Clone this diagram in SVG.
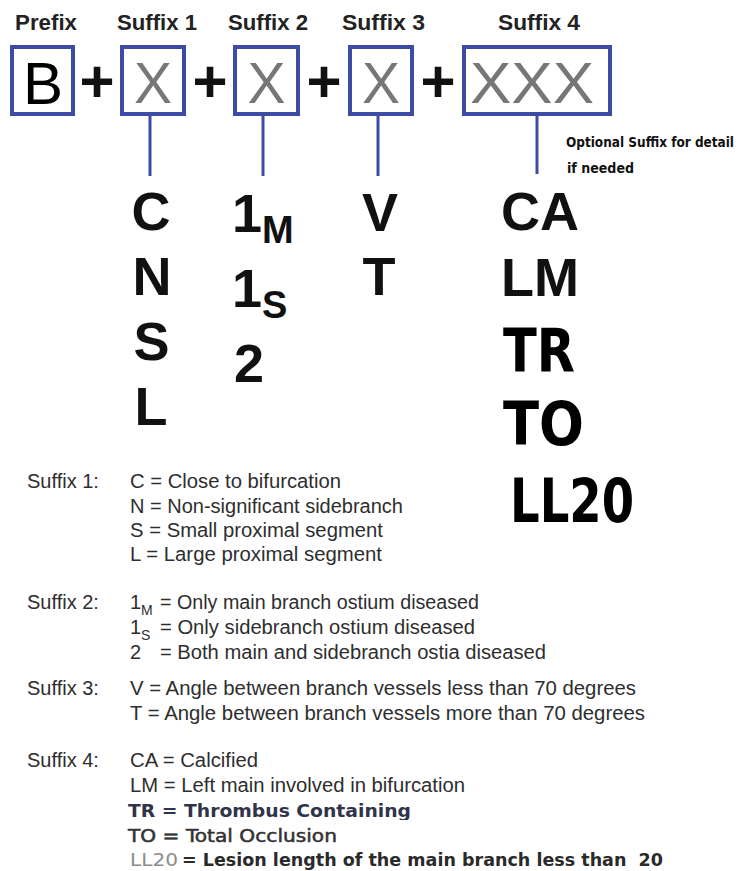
<svg xmlns="http://www.w3.org/2000/svg" width="747" height="871" viewBox="0 0 747 871">
<style>
.hdr{font-family:"Liberation Sans",Arial,sans-serif;font-weight:bold;font-size:22px;fill:#222}
.box{fill:#fff;stroke:#3b4ba6;stroke-width:4}
.conn{stroke:#3b4ba6;stroke-width:3;fill:none}
.bx{font-family:"Liberation Sans",Arial,sans-serif;font-size:57px;fill:#777;text-anchor:middle}
.plus{font-family:"Liberation Sans",Arial,sans-serif;font-weight:bold;font-size:60px;fill:#111;text-anchor:middle}
.big{font-family:"Liberation Sans",Arial,sans-serif;font-weight:bold;font-size:54px;fill:#111}
.sub{font-family:"Liberation Sans",Arial,sans-serif;font-weight:bold;font-size:38px;fill:#111}
.big2{font-family:"DejaVu Sans",Verdana,sans-serif;font-weight:bold;font-size:60px;fill:#000}
.note{font-family:"DejaVu Sans Condensed","DejaVu Sans",sans-serif;font-weight:bold;font-size:14px;fill:#111}
.lg{font-family:"Liberation Sans",Arial,sans-serif;font-size:20px;fill:#2e2e2e}
.lgs{font-family:"Liberation Sans",Arial,sans-serif;font-size:14px;fill:#2e2e2e}
.tb{font-family:"DejaVu Sans",Verdana,sans-serif;font-size:17px}
</style>
<defs>
<clipPath id="cutg"><rect x="120" y="795" width="320" height="25"/></clipPath>
</defs>

<g id="headers">
<text class="hdr" x="15" y="30" textLength="62" lengthAdjust="spacingAndGlyphs">Prefix</text>
<text class="hdr" x="117" y="30" textLength="80" lengthAdjust="spacingAndGlyphs">Suffix 1</text>
<text class="hdr" x="228" y="30" textLength="80" lengthAdjust="spacingAndGlyphs">Suffix 2</text>
<text class="hdr" x="342" y="30" textLength="83" lengthAdjust="spacingAndGlyphs">Suffix 3</text>
<text class="hdr" x="498" y="30" textLength="82" lengthAdjust="spacingAndGlyphs">Suffix 4</text>
</g>

<g id="connectors">
<line class="conn" x1="150" y1="116" x2="150" y2="176"/>
<line class="conn" x1="263" y1="116" x2="263" y2="176"/>
<line class="conn" x1="378" y1="116" x2="378" y2="176"/>
<line class="conn" x1="537" y1="116" x2="537" y2="174"/>
</g>

<g id="prefix">
<rect class="box" x="12" y="47" width="61" height="67"/>
<text x="43" y="104" font-family="Liberation Sans, Arial, sans-serif" font-size="60" fill="#000" text-anchor="middle">B</text>
</g>
<g id="suffix1">
<rect class="box" x="122" y="47" width="62" height="67"/>
<text class="bx" x="153" y="103">X</text>
</g>
<g id="suffix2">
<rect class="box" x="235" y="47" width="63" height="67"/>
<text class="bx" x="266.5" y="103">X</text>
</g>
<g id="suffix3">
<rect class="box" x="350" y="47" width="62" height="67"/>
<text class="bx" x="381" y="103">X</text>
</g>
<g id="suffix4">
<rect class="box" x="464" y="47" width="146" height="67"/>
<text class="bx" x="470" y="103" textLength="124" lengthAdjust="spacingAndGlyphs" style="text-anchor:start">XXX</text>
</g>

<g id="plus-signs">
<text class="plus" x="97" y="102">+</text>
<text class="plus" x="210" y="102">+</text>
<text class="plus" x="324" y="102">+</text>
<text class="plus" x="438" y="102">+</text>
</g>

<g id="optional-note">
<text class="note" x="566" y="147" textLength="168" lengthAdjust="spacingAndGlyphs">Optional Suffix for detail</text>
<text class="note" x="567" y="173" textLength="67" lengthAdjust="spacingAndGlyphs">if needed</text>
</g>

<g id="values-suffix1" class="big" text-anchor="middle">
<text x="151" y="230">C</text>
<text x="152" y="295">N</text>
<text x="151.5" y="360">S</text>
<text x="151" y="425">L</text>
</g>
<g id="values-suffix2">
<text class="big" x="232" y="232">1</text>
<text class="sub" x="262" y="243">M</text>
<text class="big" x="232" y="307">1</text>
<text class="sub" x="262" y="318">S</text>
<text class="big" x="234" y="382">2</text>
</g>
<g id="values-suffix3" class="big" text-anchor="middle">
<text x="380" y="231">V</text>
<text x="379" y="295">T</text>
</g>
<g id="values-suffix4">
<text class="big" x="540" y="230" text-anchor="middle">CA</text>
<text class="big" x="540" y="296" text-anchor="middle">LM</text>
<text class="big2" x="503" y="372" textLength="72" lengthAdjust="spacingAndGlyphs">TR</text>
<text class="big2" x="503" y="445" textLength="81" lengthAdjust="spacingAndGlyphs">TO</text>
<text class="big2" x="510" y="522" textLength="124" lengthAdjust="spacingAndGlyphs">LL20</text>
</g>

<g id="legend-suffix1" class="lg">
<text x="27" y="488">Suffix 1:</text>
<text x="130" y="488" textLength="211" lengthAdjust="spacingAndGlyphs">C = Close to bifurcation</text>
<text x="130" y="513" textLength="273" lengthAdjust="spacingAndGlyphs">N = Non-significant sidebranch</text>
<text x="130" y="537" textLength="253" lengthAdjust="spacingAndGlyphs">S = Small proximal segment</text>
<text x="130" y="561" textLength="252" lengthAdjust="spacingAndGlyphs">L = Large proximal segment</text>
</g>

<g id="legend-suffix2">
<text class="lg" x="27" y="609">Suffix 2:</text>
<text class="lg" x="130" y="609">1</text>
<text class="lgs" x="141" y="615">M</text>
<text class="lg" x="160" y="609" textLength="319" lengthAdjust="spacingAndGlyphs">= Only main branch ostium diseased</text>
<text class="lg" x="130" y="634">1</text>
<text class="lgs" x="141" y="640">S</text>
<text class="lg" x="160" y="634" textLength="315" lengthAdjust="spacingAndGlyphs">= Only sidebranch ostium diseased</text>
<text class="lg" x="130" y="659">2</text>
<text class="lg" x="160" y="659" textLength="386" lengthAdjust="spacingAndGlyphs">= Both main and sidebranch ostia diseased</text>
</g>

<g id="legend-suffix3" class="lg">
<text x="27" y="695">Suffix 3:</text>
<text x="130" y="695" textLength="506" lengthAdjust="spacingAndGlyphs">V = Angle between branch vessels less than 70 degrees</text>
<text x="130" y="720" textLength="515" lengthAdjust="spacingAndGlyphs">T = Angle between branch vessels more than 70 degrees</text>
</g>

<g id="legend-suffix4">
<text class="lg" x="27" y="767">Suffix 4:</text>
<text class="lg" x="130" y="767" textLength="128" lengthAdjust="spacingAndGlyphs">CA = Calcified</text>
<text class="lg" x="130" y="792" textLength="335" lengthAdjust="spacingAndGlyphs">LM = Left main involved in bifurcation</text>
<text class="tb" x="128" y="817" font-weight="bold" fill="#30344a" textLength="283" lengthAdjust="spacingAndGlyphs" clip-path="url(#cutg)">TR = Thrombus Containing</text>
<text class="tb" x="128" y="842" fill="#333" stroke="#333" stroke-width="0.5" textLength="209" lengthAdjust="spacingAndGlyphs">TO = Total Occlusion</text>
<text class="tb" x="130" y="866" fill="#8c8c8c" textLength="48" lengthAdjust="spacingAndGlyphs">LL20</text>
<text class="tb" x="182" y="866" font-weight="bold" fill="#2a2a2a" textLength="481" lengthAdjust="spacingAndGlyphs" xml:space="preserve">= Lesion length of the main branch less than  20</text>
</g>
</svg>
